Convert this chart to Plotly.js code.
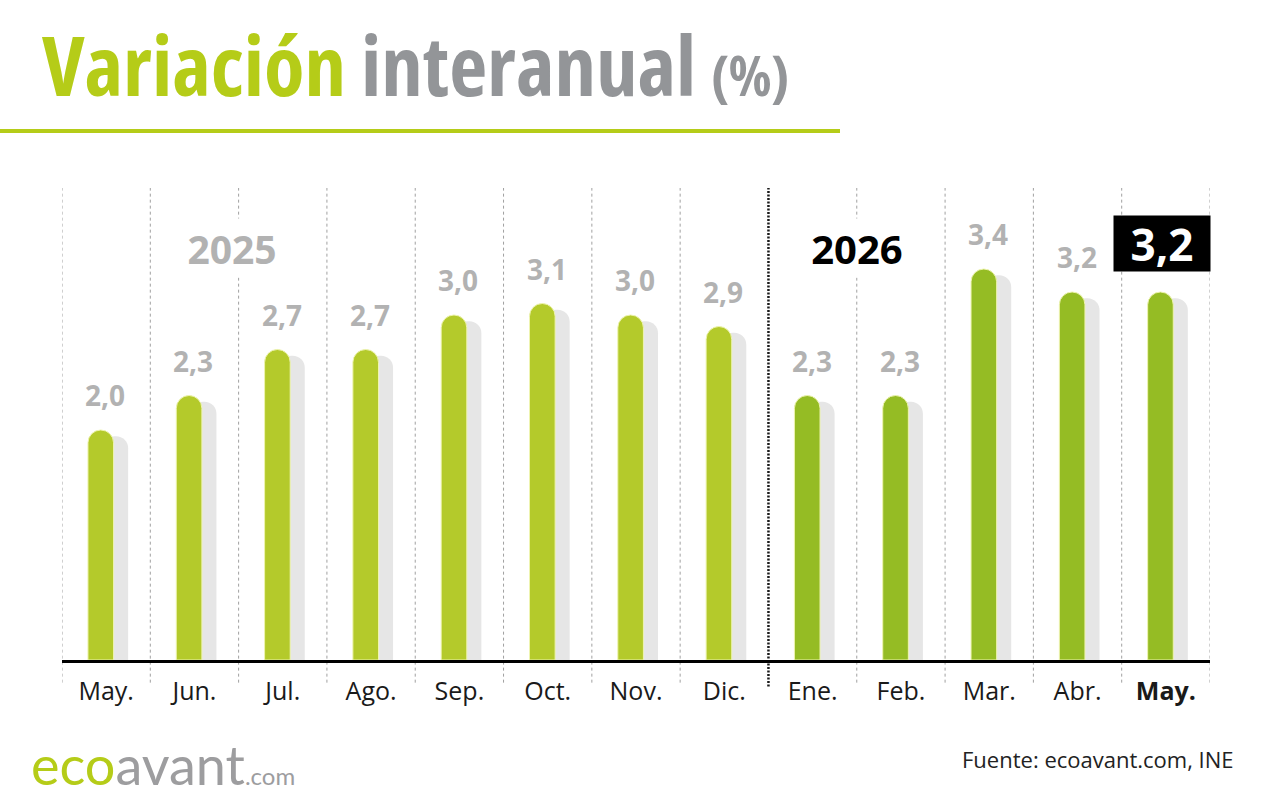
<!DOCTYPE html>
<html>
<head>
<meta charset="utf-8">
<script src="https://cdn.plot.ly/plotly-3.0.1.min.js"></script>
<style>
  html, body { margin: 0; padding: 0; background: #ffffff; }
  #chart { width: 1280px; height: 800px; }
  .gtitle { font-stretch: 75%; }
</style>
</head>
<body>
<div id="chart"></div>
<script>
// ---- Data ----
const months = ['May.', 'Jun.', 'Jul.', 'Ago.', 'Sep.', 'Oct.', 'Nov.', 'Dic.', 'Ene.', 'Feb.', 'Mar.', 'Abr.', 'May.'];
const years = [2025, 2025, 2025, 2025, 2025, 2025, 2025, 2025, 2026, 2026, 2026, 2026, 2026];
const values = [2.0, 2.3, 2.7, 2.7, 3.0, 3.1, 3.0, 2.9, 2.3, 2.3, 3.4, 3.2, 3.2];
const yearLabels = ['2025', '2026'];

// ---- Styles ----
const GREEN_2025 = '#b4ca2b';
const GREEN_2026 = '#95bc24';
const TITLE_GREEN = '#b5cc18';
const TITLE_GRAY = '#939598';
const LABEL_GRAY = '#b2b2b2';
const SHADOW = '#e6e6e6';

const idx = months.map((_, i) => i);
const fmt = v => v.toFixed(1).replace('.', ',');
const lastI = values.length - 1;
const tickText = months.map((m, i) => i === lastI ? '<b>' + m + '</b>' : m);

const BAR_W = 0.29;
const BAR_OFF = -0.206;
const SHADOW_OFF = BAR_OFF + 0.165;

const shadowTrace = {
  type: 'bar',
  x: idx,
  y: values.map(v => v - 0.055),
  width: BAR_W,
  offset: SHADOW_OFF,
  marker: { color: SHADOW, cornerradius: '50%', line: { width: 0 } },
  hoverinfo: 'skip'
};
const barTrace = {
  type: 'bar',
  x: idx,
  y: values,
  width: BAR_W,
  offset: BAR_OFF,
  marker: {
    color: years.map(y => y === 2025 ? GREEN_2025 : GREEN_2026),
    cornerradius: '50%',
    line: { width: 1, color: '#eef4b0' }
  },
  hoverinfo: 'skip'
};

// ---- Shapes: dashed boundaries, year separator, title underline ----
const shapes = [];
for (let b = 0; b <= months.length; b++) {
  const xb = b - 0.5;
  const isSep = b > 0 && b < months.length && years[b] !== years[b - 1];
  shapes.push({
    type: 'line', layer: 'below',
    xref: 'x', yref: 'paper',
    x0: xb, x1: xb, y0: isSep ? -0.056 : -0.048, y1: 1,
    line: isSep ? { color: '#1a1a1a', width: 2.5, dash: '2px,1.5px' } : { color: '#a0a0a0', width: 1, dash: '3px,3px' }
  });
}
shapes.push({
  type: 'line', xref: 'paper', yref: 'paper',
  x0: -0.054, x1: 0.6777, y0: 1.1208, y1: 1.1208,
  line: { color: TITLE_GREEN, width: 4 }
});

// ---- Annotations ----
const annotations = [];
values.forEach((v, i) => {
  if (i === lastI) return;
  annotations.push({
    x: i, y: v, xref: 'x', yref: 'y',
    text: '<b>' + fmt(v) + '</b>',
    showarrow: false, yanchor: 'bottom', xanchor: 'center',
    xshift: -1, yshift: 14,
    font: { family: 'Open Sans', size: 28, color: LABEL_GRAY }
  });
});
annotations.push({
  x: lastI, y: values[lastI], xref: 'x', yref: 'y',
  text: '<b>' + fmt(values[lastI]) + '</b>',
  showarrow: false, yanchor: 'bottom', xanchor: 'center',
  xshift: -4, yshift: 20,
  width: 94, height: 53, bgcolor: '#000000', borderpad: 1,
  font: { family: 'Open Sans', size: 44, color: '#ffffff' }
});
annotations.push({
  x: 1.43, y: 0.873, xref: 'x', yref: 'paper',
  text: '<b>' + yearLabels[0] + '</b>', showarrow: false,
  xanchor: 'center', yanchor: 'middle',
  bgcolor: '#ffffff', width: 104, height: 56,
  font: { family: 'Open Sans', size: 39, color: LABEL_GRAY }
});
annotations.push({
  x: 8.5, y: 0.873, xref: 'x', yref: 'paper',
  text: '<b>' + yearLabels[1] + '</b>', showarrow: false,
  xanchor: 'center', yanchor: 'middle',
  bgcolor: '#ffffff', width: 108, height: 56,
  font: { family: 'Open Sans', size: 40, color: '#000000' }
});
annotations.push({
  x: -0.029, y: -0.222, xref: 'paper', yref: 'paper',
  text: '<span style="color:' + TITLE_GREEN + '">eco</span>avant<span style="font-size:24px">.com</span>',
  showarrow: false, xanchor: 'left', yanchor: 'middle',
  font: { family: 'Lato', size: 54, color: '#9d9d9f' }
});
annotations.push({
  x: 1.0227, y: -0.21, xref: 'paper', yref: 'paper',
  text: 'Fuente: ecoavant.com, INE',
  showarrow: false, xanchor: 'right', yanchor: 'middle',
  font: { family: 'Open Sans', size: 22, color: '#222222' }
});

const layout = {
  width: 1280, height: 800,
  margin: { l: 62, r: 70, t: 188, b: 140 },
  paper_bgcolor: '#ffffff', plot_bgcolor: '#ffffff',
  barmode: 'overlay',
  showlegend: false,
  hovermode: false,
  title: {
    text: '<span style="color:' + TITLE_GREEN + '">Variación</span> interanual <span style="font-size:56px">(%)</span>',
    font: { family: 'Open Sans', size: 83, color: TITLE_GRAY, weight: 700 },
    xref: 'container', yref: 'container',
    x: 42 / 1280, xanchor: 'left',
    y: 0.916, yanchor: 'middle'
  },
  xaxis: {
    range: [-0.5, months.length - 0.5],
    tickmode: 'array', tickvals: idx, ticktext: tickText,
    showgrid: false, zeroline: false,
    showline: true, linecolor: '#000000', linewidth: 3,
    ticks: '', ticklabelstandoff: 7,
    tickfont: { family: 'Open Sans', size: 25, color: '#1a1a1a' },
    fixedrange: true
  },
  yaxis: {
    range: [0, 472 / 115],
    visible: false, showgrid: false, zeroline: false,
    fixedrange: true
  },
  shapes: shapes,
  annotations: annotations
};

Plotly.newPlot('chart', [shadowTrace, barTrace], layout, { displayModeBar: false, staticPlot: true });
</script>
</body>
</html>
